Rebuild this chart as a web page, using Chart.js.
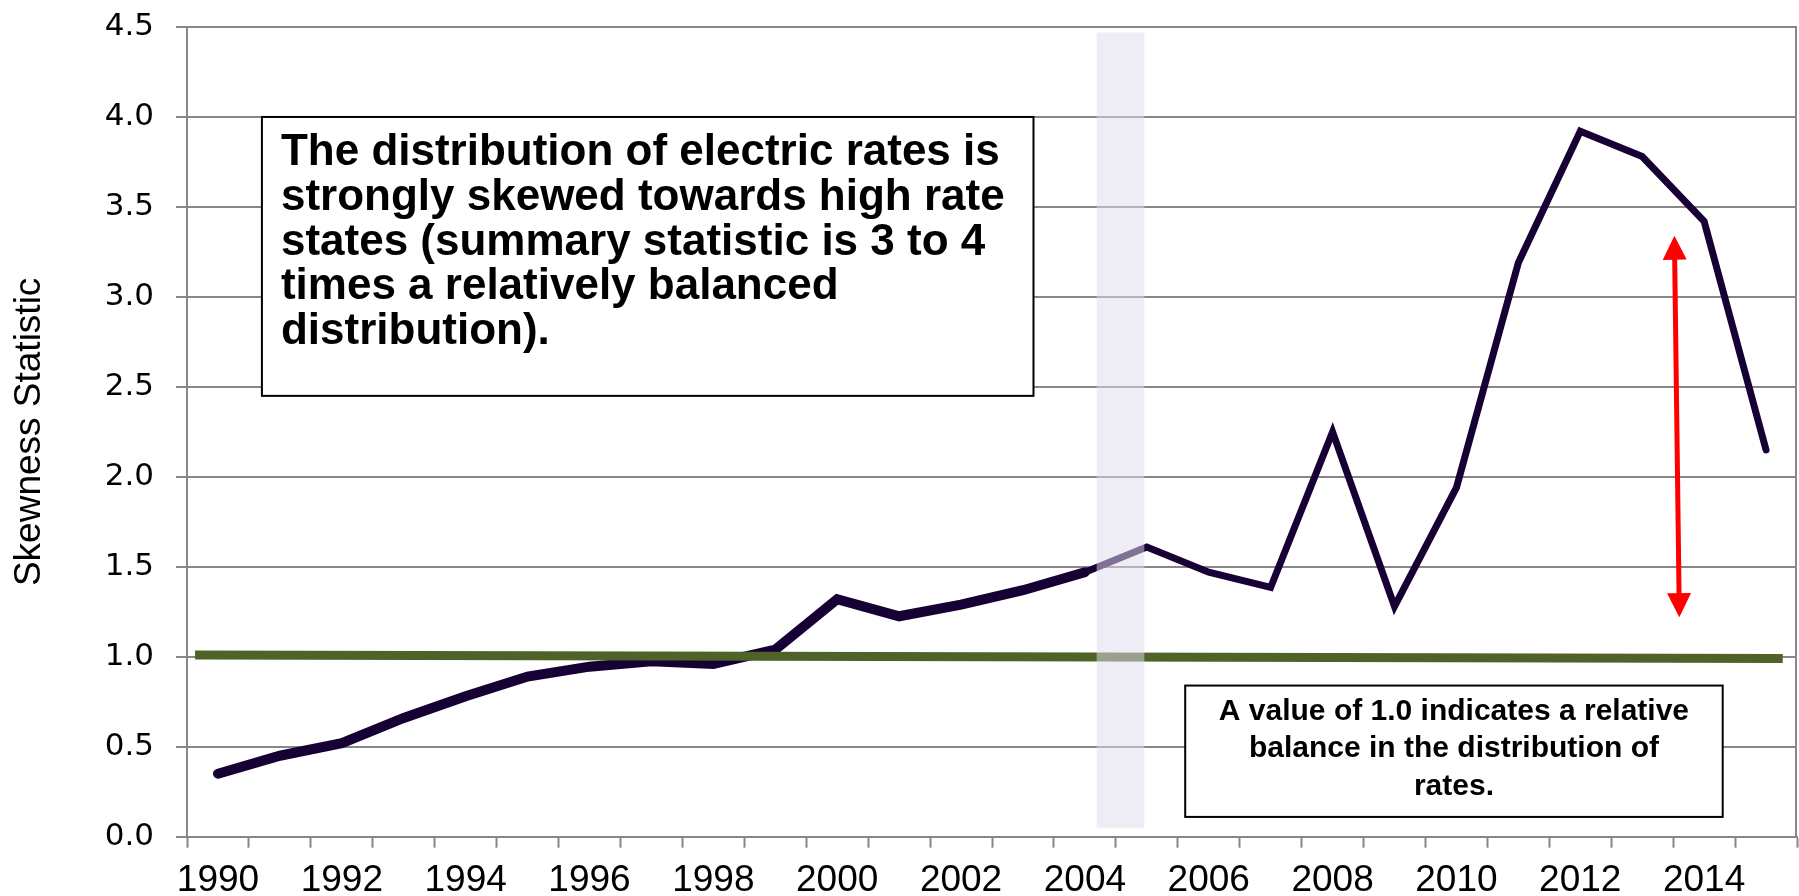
<!DOCTYPE html>
<html>
<head>
<meta charset="utf-8">
<script src="https://cdn.jsdelivr.net/npm/chart.js@4.4.1/dist/chart.umd.min.js"></script>
<style>
  html, body { margin: 0; padding: 0; background: #fff; }
  #wrap { width: 1799px; height: 896px; }
</style>
</head>
<body>
<div id="wrap"><canvas id="skewChart"></canvas></div>
<script>
// values
const years = ['1990','1991','1992','1993','1994','1995','1996','1997','1998','1999',
  '2000','2001','2002','2003','2004','2005','2006','2007','2008','2009',
  '2010','2011','2012','2013','2014','2015'];
const skewness = [0.35, 0.45, 0.52, 0.66, 0.78, 0.89, 0.945, 0.975, 0.96, 1.04,
  1.32, 1.225, 1.29, 1.37, 1.47, 1.61, 1.47, 1.385, 2.25, 1.28,
  1.94, 3.19, 3.92, 3.78, 3.42, 2.15];
const yTickValues = [0, 0.5, 1, 1.5, 2, 2.5, 3, 3.5, 4, 4.5];
const balanceLevel = [1.01, 0.99];

const noteTop = ['The distribution of electric rates is',
  'strongly skewed towards high rate',
  'states (summary statistic is 3 to 4',
  'times a relatively balanced',
  'distribution).'];
const noteBottom = ['A value of 1.0 indicates a relative',
  'balance in the distribution of',
  'rates.'];

const gridGray = '#878787';

const overlays = {
  id: 'overlays',
  afterDatasetsDraw(chart) {
    const ctx = chart.ctx;
    const x = chart.scales.x, y = chart.scales.y;
    const area = chart.chartArea;
    ctx.save();

    // right border of the plot
    ctx.strokeStyle = gridGray;
    ctx.lineWidth = 2;
    ctx.beginPath();
    ctx.moveTo(area.right - 1, area.top);
    ctx.lineTo(area.right - 1, area.bottom);
    ctx.stroke();

    // line of balance at 1.0
    ctx.strokeStyle = '#4f6228';
    ctx.lineWidth = 9;
    ctx.beginPath();
    ctx.moveTo(x.getPixelForValue(-0.37), y.getPixelForValue(balanceLevel[0]));
    ctx.lineTo(x.getPixelForValue(25.27), y.getPixelForValue(balanceLevel[1]));
    ctx.stroke();

    // shaded band around 2004-2005
    const bx0 = x.getPixelForValue(14.19), bx1 = x.getPixelForValue(14.96);
    const by0 = y.getPixelForValue(4.47), by1 = y.getPixelForValue(0.05);
    ctx.fillStyle = 'rgba(222,218,234,0.52)';
    ctx.fillRect(bx0, by0, bx1 - bx0, by1 - by0);

    // red double arrow
    const ax0 = x.getPixelForValue(23.52), ay0 = y.getPixelForValue(3.34);
    const ax1 = x.getPixelForValue(23.6), ay1 = y.getPixelForValue(1.22);
    drawArrowHead(ctx, ax1, ay1, ax0, ay0);
    drawArrowHead(ctx, ax0, ay0, ax1, ay1);
    ctx.strokeStyle = '#ff0000';
    ctx.lineWidth = 5;
    const ang = Math.atan2(ay1 - ay0, ax1 - ax0);
    ctx.beginPath();
    ctx.moveTo(ax0 + Math.cos(ang) * 20, ay0 + Math.sin(ang) * 20);
    ctx.lineTo(ax1 - Math.cos(ang) * 20, ay1 - Math.sin(ang) * 20);
    ctx.stroke();

    // text boxes
    drawBox(ctx, x.getPixelForValue(0.71), y.getPixelForValue(4.0),
      x.getPixelForValue(13.17), y.getPixelForValue(2.45));
    ctx.fillStyle = '#000';
    ctx.font = 'bold 44px "Liberation Sans", Arial, sans-serif';
    ctx.textAlign = 'left';
    ctx.textBaseline = 'middle';
    const t0 = y.getPixelForValue(4.0) + 36;
    noteTop.forEach((s, i) => ctx.fillText(s, x.getPixelForValue(0.71) + 19, t0 + i * 44.7));

    const l2 = x.getPixelForValue(15.62), r2 = x.getPixelForValue(24.3);
    drawBox(ctx, l2, y.getPixelForValue(0.84), r2, y.getPixelForValue(0.11));
    ctx.fillStyle = '#000';
    ctx.font = 'bold 30px "Liberation Sans", Arial, sans-serif';
    ctx.textAlign = 'center';
    const t1 = y.getPixelForValue(0.84) + 26;
    noteBottom.forEach((s, i) => ctx.fillText(s, (l2 + r2) / 2, t1 + i * 37.5));

    ctx.restore();
  }
};

function drawArrowHead(ctx, fx, fy, tx, ty) {
  const ang = Math.atan2(ty - fy, tx - fx);
  const len = 24, half = 12;
  ctx.fillStyle = '#ff0000';
  ctx.beginPath();
  ctx.moveTo(tx, ty);
  ctx.lineTo(tx - len * Math.cos(ang) + half * Math.sin(ang), ty - len * Math.sin(ang) - half * Math.cos(ang));
  ctx.lineTo(tx - len * Math.cos(ang) - half * Math.sin(ang), ty - len * Math.sin(ang) + half * Math.cos(ang));
  ctx.closePath();
  ctx.fill();
}

function drawBox(ctx, l, t, r, b) {
  ctx.fillStyle = '#fff';
  ctx.fillRect(l, t, r - l, b - t);
  ctx.strokeStyle = '#000';
  ctx.lineWidth = 2;
  ctx.strokeRect(l, t, r - l, b - t);
}

const ctx = document.getElementById('skewChart');

const skewChart = new Chart(ctx, {
  type: 'line',
  data: {
    labels: years,
    datasets: [{
      label: 'Skewness',
      data: skewness,
      borderColor: '#170033',
      borderWidth: 8,
      borderCapStyle: 'round',
      borderJoinStyle: 'miter',
      pointRadius: 0,
      tension: 0,
      segment: {
        borderWidth: c => c.p0DataIndex < 14 ? 10 : 7
      }
    }]
  },
  options: {
    responsive: true,
    maintainAspectRatio: false,
    animation: false,
    layout: { padding: { top: 27, right: 2, left: 0, bottom: 0 } },
    plugins: {
      legend: { display: false },
      tooltip: { enabled: false }
    },
    scales: {
      x: {
        type: 'category',
        offset: true,
        afterFit: s => { s.height = 59.3; },
        border: { color: gridGray, width: 2 },
        grid: {
          offset: true,
          drawOnChartArea: false,
          drawTicks: true,
          tickLength: 11,
          tickWidth: 2,
          tickColor: gridGray
        },
        ticks: {
          autoSkip: false,
          maxRotation: 0,
          padding: 11,
          color: '#000',
          font: { family: '"Liberation Sans", Arial, sans-serif', size: 37 },
          callback: (v, i) => i % 2 === 0 ? years[i] : ''
        }
      },
      y: {
        min: 0,
        max: 4.5,
        afterFit: s => { s.width = 187; s.paddingTop = 0; s.paddingBottom = 0; },
        afterBuildTicks: s => { s.ticks = yTickValues.map(v => ({ value: v })); },
        border: { color: gridGray, width: 2 },
        grid: { color: gridGray, lineWidth: 2, tickLength: 11 },
        title: {
          display: true,
          text: 'Skewness Statistic',
          color: '#000',
          padding: { top: 8, bottom: 0 },
          font: { family: '"Liberation Sans", Arial, sans-serif', size: 37 }
        },
        ticks: {
          padding: 22,
          color: '#000',
          font: { family: '"DejaVu Sans", sans-serif', size: 31 },
          callback: v => Number(v).toFixed(1)
        }
      }
    }
  },
  plugins: [overlays]
});
</script>
</body>
</html>
